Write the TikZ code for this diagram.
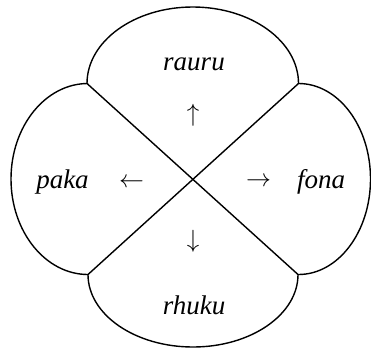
\documentclass[tikz,border=0pt]{standalone}
\usepackage{fontspec}
\setmainfont{Liberation Serif}
\begin{document}
\begin{tikzpicture}[x=1pt, y=1pt, line width=1.4pt, word/.style={font=\fontsize{27}{32}\selectfont\itshape, anchor=base, inner sep=0pt}, dir/.style={font=\fontsize{26}{30}\selectfont, inner sep=0pt}]
\useasboundingbox (0,0) rectangle (371,349);
\coordinate (tl) at (87,265.5);
\coordinate (tr) at (298.5,265.5);
\coordinate (br) at (298,74.5);
\coordinate (bl) at (88,74.5);
\draw (tl) arc[start angle=180, end angle=0, x radius=105.75pt, y radius=76.5pt] -- (tr)
  arc[start angle=90, end angle=-90, x radius=72pt, y radius=95.5pt] -- (br)
  arc[start angle=0, end angle=-180, x radius=105pt, y radius=72.5pt] -- (bl)
  arc[start angle=270, end angle=90, x radius=77pt, y radius=95.5pt] -- cycle;
\draw (tl) -- (br);
\draw (tr) -- (bl);
\node[word] (rauru) at (194,279) {rauru};
\node[word] (fona) at (321,161) {fona};
\node[word] (rhuku) at (194,35) {rhuku};
\node[word] (paka) at (62.5,161) {paka};
\node[dir] (up) at (193,234) {$\uparrow$};
\node[dir] (right) at (258.5,167) {$\rightarrow$};
\node[dir] (down) at (193,108) {$\downarrow$};
\node[dir] (left) at (131.5,166) {$\leftarrow$};
\end{tikzpicture}
\end{document}
